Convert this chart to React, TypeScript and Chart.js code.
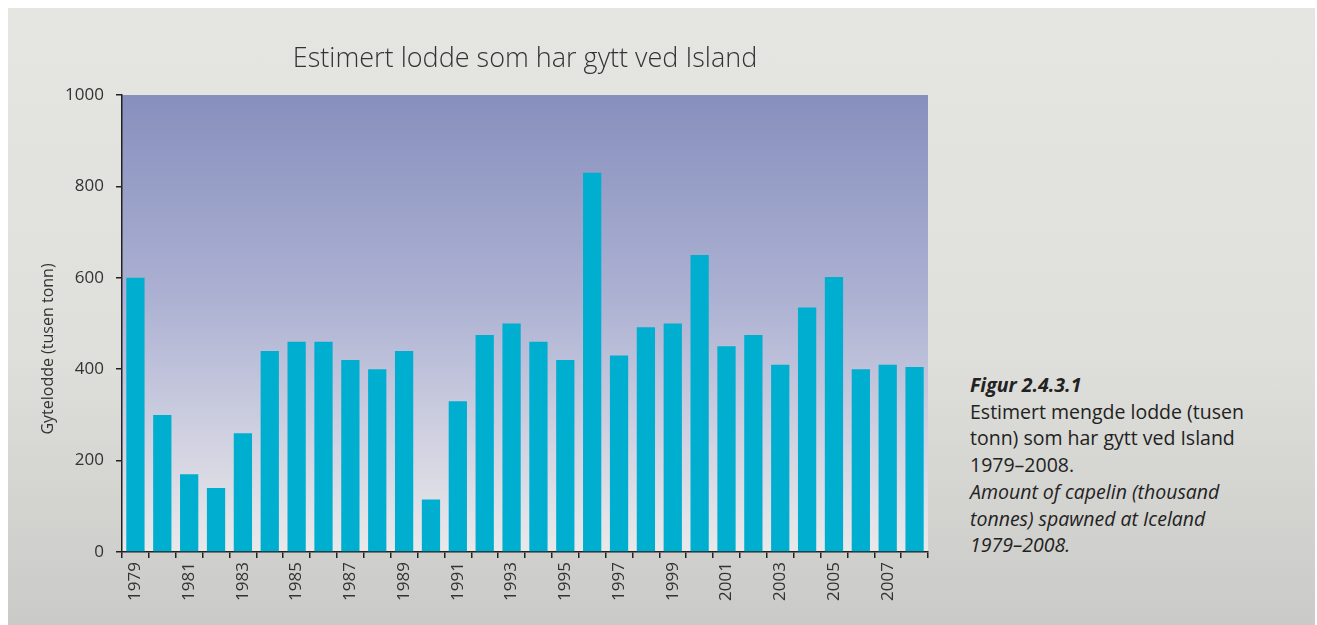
import React, { useEffect, useRef } from "react";
import { Chart, registerables } from "chart.js";

Chart.register(...registerables);

const years = [
  "1979", "1980", "1981", "1982", "1983", "1984", "1985", "1986", "1987", "1988",
  "1989", "1990", "1991", "1992", "1993", "1994", "1995", "1996", "1997", "1998",
  "1999", "2000", "2001", "2002", "2003", "2004", "2005", "2006", "2007", "2008",
];
const spawned = [
  600, 300, 170, 140, 260, 440, 460, 460, 420, 400,
  440, 115, 330, 475, 500, 460, 420, 830, 430, 492,
  500, 650, 450, 475, 410, 535, 602, 400, 410, 405,
];
const titleText = "Estimert lodde som har gytt ved Island";
const yTitle = "Gytelodde (tusen tonn)";
const captionLines = [
  { text: "Figur 2.4.3.1", style: "bolditalic" },
  { text: "Estimert mengde lodde (tusen", style: "normal" },
  { text: "tonn) som har gytt ved Island", style: "normal" },
  { text: "1979–2008.", style: "normal" },
  { text: "Amount of capelin (thousand", style: "italic" },
  { text: "tonnes) spawned at Iceland", style: "italic" },
  { text: "1979–2008.", style: "italic" },
];

const FONT = "'Open Sans', 'DejaVu Sans', sans-serif";

export default function App() {
  const ref = useRef<HTMLCanvasElement | null>(null);

  useEffect(() => {
    if (!ref.current) return;
    const bgPlugin = {
      id: "plotBg",
      beforeDraw(chart: any) {
        const { ctx, chartArea } = chart;
        const { left, top, right, bottom } = chartArea;
        const g = ctx.createLinearGradient(0, top, 0, bottom);
        g.addColorStop(0, "#878fbd");
        g.addColorStop(0.45, "#adb2d3");
        g.addColorStop(0.8, "#d6d6e3");
        g.addColorStop(1, "#e9e9ea");
        ctx.save();
        ctx.fillStyle = g;
        ctx.fillRect(left, top, right - left, bottom - top);
        ctx.restore();
      },
      afterDraw(chart: any) {
        const { ctx } = chart;
        ctx.save();
        ctx.translate(40, 341);
        ctx.rotate(-Math.PI / 2);
        ctx.font = `16px ${FONT}`;
        ctx.fillStyle = "#333";
        ctx.textAlign = "center";
        ctx.textBaseline = "middle";
        ctx.fillText(yTitle, 0, 0);
        ctx.restore();
      },
    };

    const chart = new Chart(ref.current, {
      type: "bar",
      data: {
        labels: years,
        datasets: [
          {
            data: spawned,
            backgroundColor: "#00aed0",
            borderWidth: 0,
            barPercentage: 0.68,
            categoryPercentage: 1,
          },
        ],
      },
      options: {
        responsive: false,
        animation: false,
        devicePixelRatio: 1,
        layout: { padding: { top: 35, right: 12, left: 0, bottom: 0 } },
        plugins: {
          legend: { display: false },
          tooltip: { enabled: false },
          title: {
            display: true,
            text: titleText,
            fullSize: false,
            color: "#333",
            font: { family: FONT, size: 27, weight: "300", lineHeight: 1.2 },
            padding: { top: 0, bottom: 19.6 },
          },
        },
        scales: {
          x: {
            afterFit(scale: any) {
              scale.height = 73;
            },
            grid: {
              display: true,
              drawOnChartArea: false,
              drawTicks: true,
              tickLength: 6,
              color: "#222",
              lineWidth: 1.5,
            },
            border: { display: true, color: "#222", width: 1.5 },
            ticks: {
              autoSkip: false,
              maxRotation: 90,
              minRotation: 90,
              padding: 4,
              color: "#333",
              font: { family: FONT, size: 17 },
              callback: (_v: any, i: number) => (i % 2 === 0 ? years[i] : ""),
            },
          },
          y: {
            min: 0,
            max: 1000,
            afterFit(scale: any) {
              scale.width = 114;
            },
            grid: {
              display: true,
              drawOnChartArea: false,
              drawTicks: true,
              tickLength: 6,
              color: "#222",
              lineWidth: 1.5,
            },
            border: { display: true, color: "#222", width: 1.5 },
            ticks: {
              stepSize: 200,
              padding: 12,
              color: "#333",
              font: { family: FONT, size: 17 },
              callback: (v: any) => String(v),
            },
          },
        },
      },
      plugins: [bgPlugin],
    });
    return () => chart.destroy();
  }, []);

  return (
    <div
      style={{
        position: "fixed",
        left: 8,
        top: 8,
        width: 1307,
        height: 617,
        background: "linear-gradient(#e5e5e1 0%, #dfdfdb 55%, #cacac8 100%)",
        overflow: "hidden",
      }}
    >
      <canvas
        ref={ref}
        width={932}
        height={617}
        style={{ position: "absolute", left: 0, top: 0, width: 932, height: 617 }}
      />
      <div
        style={{
          position: "absolute",
          left: 962,
          top: 364,
          fontFamily: FONT,
          fontSize: 19.5,
          lineHeight: "26.7px",
          color: "#222",
          whiteSpace: "nowrap",
        }}
      >
        {captionLines.map((l, i) => (
          <div
            key={i}
            style={{
              fontWeight: l.style === "bolditalic" ? 700 : 400,
              fontStyle: l.style === "normal" ? "normal" : "italic",
            }}
          >
            {l.text}
          </div>
        ))}
      </div>
    </div>
  );
}
